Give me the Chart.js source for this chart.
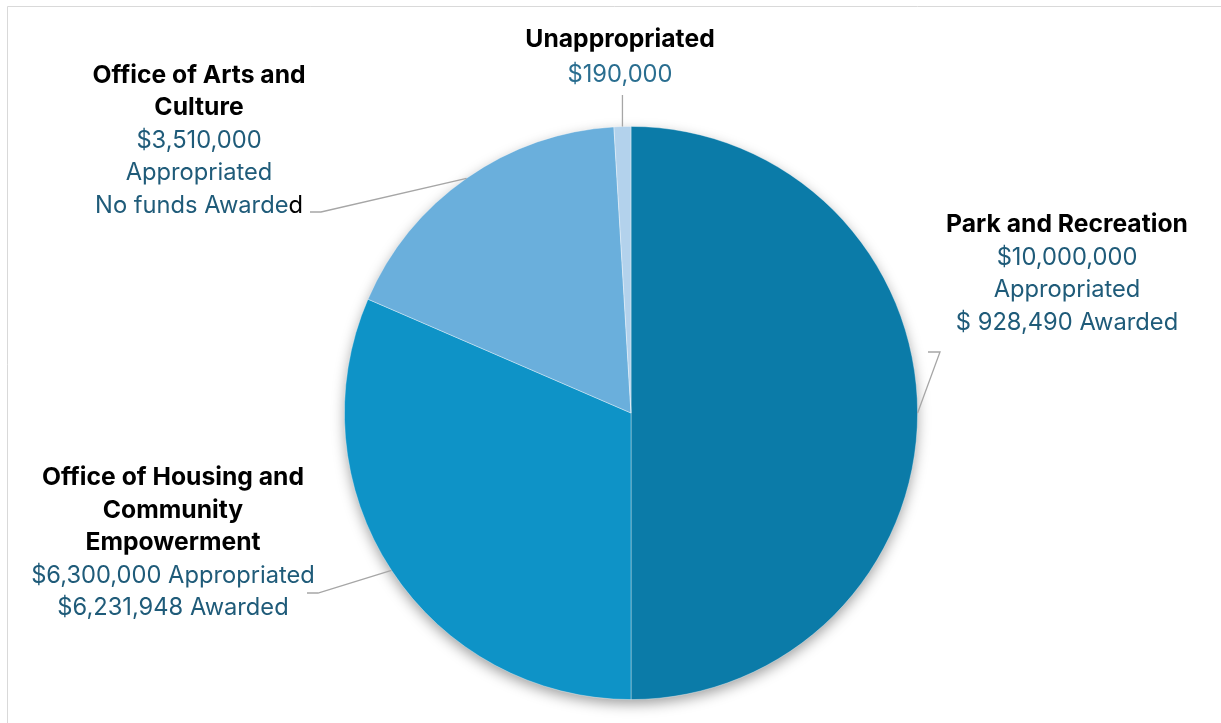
<!DOCTYPE html>
<html>
<head>
<meta charset="utf-8">
<script src="https://cdn.jsdelivr.net/npm/chart.js@4"></script>
<style>
  html, body { margin: 0; padding: 0; background: #fff; }
  #wrap { width: 1221px; height: 723px; position: relative; }
</style>
</head>
<body>
<div id="wrap"><canvas id="mychart"></canvas></div>
<script>
// data
const categories = ['Park and Recreation', 'Office of Housing and Community Empowerment', 'Office of Arts and Culture', 'Unappropriated'];
const amounts = [10000000, 6300000, 3510000, 190000];
const colors = ['#0b7ba8', '#0e93c7', '#6aafdc', '#b3d2ec'];

// label texts, as shown in the chart (title lines, then value lines)
const titleLines = [
    ['Park and Recreation'],
    ['Office of Housing and', 'Community', 'Empowerment'],
    ['Office of Arts and', 'Culture'],
    ['Unappropriated']
];
const valueLines = [
    ['$10,000,000', 'Appropriated', '$ 928,490 Awarded'],
    ['$6,300,000 Appropriated', '$6,231,948 Awarded'],
    ['$3,510,000', 'Appropriated', ['No funds Awarde', 'd']],
    ['$190,000']
];

// where each label box sits (text centre x, first baseline y) and its elbow
const labelPlace = [
    { x: 1067, y: 232, step: 32.5, elbow: [[940, 352], [928, 352]] },
    { x: 173, y: 485, step: 32.6, elbow: [[318, 593], [307, 593]] },
    { x: 199, y: 83, step: 32.4, elbow: [[321, 212], [310, 212]] },
    { x: 620, y: 47, step: 35, elbow: null, lineTop: 95 }
];

const FONT = 'Inter, "Open Sans", sans-serif';

const framePlugin = {
    id: 'frame',
    beforeDraw(chart) {
        const c = chart.ctx;
        c.save();
        c.fillStyle = '#fff';
        c.fillRect(0, 0, chart.width, chart.height);
        c.strokeStyle = '#d9d9d9';
        c.lineWidth = 1;
        c.beginPath();
        c.moveTo(7.5, chart.height);
        c.lineTo(7.5, 6.5);
        c.lineTo(chart.width, 6.5);
        c.stroke();
        c.restore();
    },
    beforeDatasetsDraw(chart) {
        // soft shadow under the pie
        const arc = chart.getDatasetMeta(0).data[0];
        if (!arc) return;
        const c = chart.ctx;
        c.save();
        c.shadowColor = 'rgba(0,0,0,0.4)';
        c.shadowBlur = 14;
        c.shadowOffsetY = 5;
        c.fillStyle = '#fff';
        c.beginPath();
        c.arc(arc.x, arc.y, arc.outerRadius - 1, 0, Math.PI * 2);
        c.fill();
        c.restore();
    }
};

const labelPlugin = {
    id: 'calloutLabels',
    afterDatasetsDraw(chart) {
        const c = chart.ctx;
        const meta = chart.getDatasetMeta(0);
        c.save();
        meta.data.forEach((arc, i) => {
            const p = labelPlace[i];
            const mid = (arc.startAngle + arc.endAngle) / 2;
            const ex = arc.x + Math.cos(mid) * arc.outerRadius;
            const ey = arc.y + Math.sin(mid) * arc.outerRadius;

            // leader line
            c.strokeStyle = '#a6a6a6';
            c.lineWidth = 1.3;
            c.beginPath();
            c.moveTo(ex, ey);
            if (p.elbow) {
                p.elbow.forEach(pt => c.lineTo(pt[0], pt[1]));
            } else {
                c.lineTo(ex, p.lineTop);
            }
            c.stroke();

            // text
            c.textAlign = 'center';
            c.textBaseline = 'alphabetic';
            let y = p.y;
            c.font = 'bold 24.7px ' + FONT;
            c.fillStyle = '#000';
            titleLines[i].forEach(t => {
                c.fillText(t, p.x, y);
                y += p.step;
            });
            c.font = '23.7px ' + FONT;
            valueLines[i].forEach(t => {
                if (Array.isArray(t)) {
                    const full = t.join('');
                    const w = c.measureText(full).width;
                    let x0 = p.x - w / 2;
                    c.textAlign = 'left';
                    c.fillStyle = '#1f5b79';
                    c.fillText(t[0], x0, y);
                    x0 += c.measureText(t[0]).width;
                    c.fillStyle = '#000';
                    c.fillText(t[1], x0, y);
                    c.textAlign = 'center';
                } else {
                    c.fillStyle = i === 3 ? '#2a6e90' : '#1f5b79';
                    c.fillText(t, p.x, y);
                }
                y += p.step;
            });
        });
        c.restore();
    }
};

const dataConfig = {
    labels: categories,
    datasets: [{
        data: amounts,
        backgroundColor: colors,
        borderColor: 'rgba(255,255,255,0.45)',
        borderWidth: 0.8
    }]
};

const config = {
    type: 'pie',
    data: dataConfig,
    options: {
        responsive: true,
        maintainAspectRatio: false,
        animation: false,
        layout: { padding: { top: 126, bottom: 23, left: 241, right: 200 } },
        plugins: {
            legend: { display: false },
            tooltip: { enabled: false }
        }
    },
    plugins: [framePlugin, labelPlugin]
};

const mychart = new Chart(document.querySelector('#mychart'), config);
</script>
</body>
</html>
